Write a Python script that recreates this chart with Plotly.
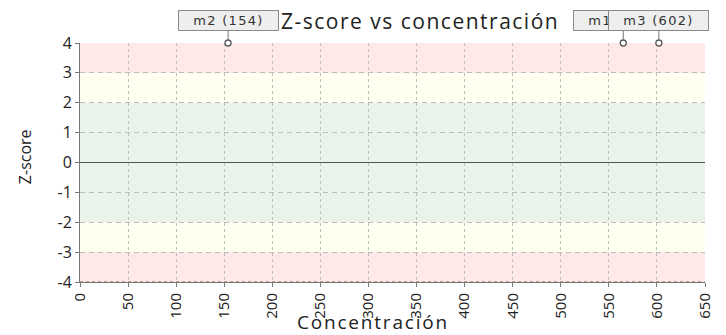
import plotly.graph_objects as go

# Muestras: concentración y z-score (limitado al rango del eje)
muestras = ["m2", "m1", "m3"]
concentracion = [154, 565, 602]
zscore = [4, 4, 4]

# Bandas de fondo: (desde, hasta, color)
bandas_y = [(-4, -3), (-3, -2), (-2, 2), (2, 3), (3, 4)]
colores_banda = ["#ffe8e8", "#fffff0", "#e9f3e9", "#fffff0", "#ffe8e8"]

x_ticks = list(range(0, 651, 50))
y_ticks = list(range(-4, 5))

fuente = "Open Sans, sans-serif"


def espaciado(texto, px):
    return f'<span style="letter-spacing:{px}px">{texto}</span>'


fig = go.Figure()

fig.add_trace(go.Scatter(
    x=concentracion, y=zscore, mode="markers",
    marker=dict(symbol="circle", size=6, color="white",
                line=dict(color="#555555", width=1.3)),
    cliponaxis=False, showlegend=False, hoverinfo="skip",
))

shapes = []
for (y0, y1), c in zip(bandas_y, colores_banda):
    shapes.append(dict(type="rect", xref="x", yref="y", x0=0, x1=650,
                       y0=y0, y1=y1, fillcolor=c, line=dict(width=0),
                       layer="below"))
# línea inferior discontinua
shapes.append(dict(type="line", xref="x", yref="y", x0=0, x1=650, y0=-4, y1=-4,
                   line=dict(color="#7a5a5a", width=1, dash="dot")))
# línea de cero
shapes.append(dict(type="line", xref="x", yref="y", x0=0, x1=650, y0=0, y1=0,
                   line=dict(color="#555555", width=1.2)))

annotations = []
for nombre, cx, cy in zip(muestras, concentracion, zscore):
    annotations.append(dict(
        x=cx, y=cy, xref="x", yref="y",
        text=espaciado(f"{nombre} ({cx})", 1.3),
        showarrow=True, arrowhead=0,
        arrowcolor="#777777", arrowwidth=1, ax=0, ay=-23, standoff=3,
        bgcolor="#eeeeee", bordercolor="#8a8a8a", borderwidth=1,
        borderpad=1, width=97, height=17,
        font=dict(family="DejaVu Sans", size=13, color="#333333"),
    ))

annotations.append(dict(
    text=espaciado("Z-score vs concentración", 1.5), xref="paper", yref="paper",
    x=(421 - 80) / 627, y=1 + (43 - 21) / 239, xanchor="center", yanchor="middle",
    showarrow=False, font=dict(family=fuente, size=21, color="#222222"),
))
annotations.append(dict(
    text=espaciado("Concentración", 1.8), xref="paper", yref="paper",
    x=(374 - 80) / 627, y=-(337 - 282) / 239, xanchor="center", yanchor="bottom",
    showarrow=False, font=dict(family=fuente, size=19, color="#222222"),
))
annotations.append(dict(
    text="Z-score", xref="paper", yref="paper",
    x=-(80 - 25) / 627, y=(282 - 157) / 239, xanchor="center", yanchor="middle",
    textangle=-90, showarrow=False, font=dict(family=fuente, size=16, color="#222222"),
))

fig.update_layout(
    width=726, height=335,
    margin=dict(l=80, r=19, t=43, b=53),
    paper_bgcolor="white", plot_bgcolor="white",
    shapes=shapes, annotations=annotations,
    xaxis=dict(range=[0, 650], tickvals=x_ticks, ticktext=[str(v) for v in x_ticks],
               tickangle=-90, showgrid=True, gridcolor="#bdbdbd", griddash="3px,3px",
               gridwidth=1, zeroline=False, showline=True, linecolor="#777777",
               ticks="outside", ticklen=4, tickcolor="#777777",
               tickfont=dict(family=fuente, size=15, color="#222222"), layer="above traces"),
    yaxis=dict(range=[-4, 4], tickvals=y_ticks, ticktext=[str(v) for v in y_ticks],
               showgrid=True, gridcolor="#bdbdbd", griddash="5px,4px", gridwidth=1,
               zeroline=False, showline=True, linecolor="#777777",
               ticks="outside", ticklen=4, tickcolor="#777777",
               tickfont=dict(family=fuente, size=16, color="#222222")),
)

fig.write_html("out.html")
